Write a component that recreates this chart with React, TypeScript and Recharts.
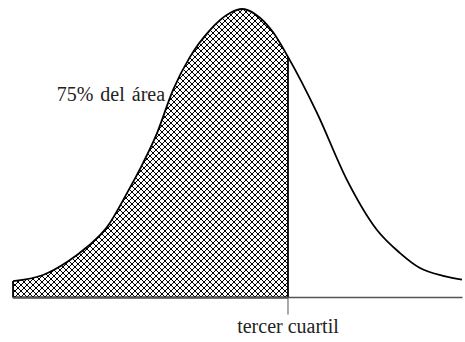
import React from 'react';
import { ComposedChart, Area, Line, XAxis, YAxis, ReferenceLine, ReferenceDot } from 'recharts';

// curve: x in standard units, y as % of peak height
const xs = [-2.544, -2.211, -1.944, -1.722, -1.5, -1.278, -1.1, -0.944, -0.767, -0.578, -0.356, -0.133, 0, 0.144, 0.344, 0.511, 0.833, 1.167, 1.5, 1.756, 1.978, 2.233, 2.444];
const ys = [5.7, 7.8, 12.3, 17.5, 24.4, 36.2, 46.6, 57.0, 71.9, 83.4, 92.7, 98.6, 100, 98.3, 92.0, 83.4, 64.0, 40.7, 23.4, 15.4, 10.2, 7.5, 6.2];
const cutX = 0.511;
const cutLabel = 'tercer cuartil';
const areaLabel = '75% del área';

const data = xs.map((x, i) => ({ x, y: ys[i], shaded: x <= cutX + 1e-9 ? ys[i] : null }));
const first = data[0];
const cutPoint = data.find((d) => Math.abs(d.x - cutX) < 1e-9)!;

const FONT = 'Liberation Serif';

export default function App() {
  return (
    <div style={{ position: 'absolute', left: 0, top: 0, background: '#fff' }}>
      <ComposedChart
        width={465}
        height={342}
        data={data}
        margin={{ top: 9, right: 2.5, bottom: 14.5, left: 12.5 }}
      >
        <defs>
          <pattern id="hatch" width="6" height="6" patternUnits="userSpaceOnUse">
            <rect width="6" height="6" fill="#fff" />
            <path d="M0,0L6,6M6,0L0,6" stroke="#000" strokeWidth={1} shapeRendering="crispEdges" />
          </pattern>
        </defs>
        <XAxis
          type="number"
          dataKey="x"
          domain={[-2.55, 2.45]}
          ticks={[cutX]}
          tickFormatter={() => cutLabel}
          tickSize={17}
          tickMargin={4}
          height={30}
          axisLine={{ stroke: '#555', strokeWidth: 1.5 }}
          tickLine={{ stroke: '#555', strokeWidth: 1 }}
          tick={{ fill: '#222', fontSize: 20, fontFamily: FONT }}
          allowDataOverflow
        />
        <YAxis hide domain={[0, 100]} />
        <Area
          dataKey="shaded"
          type="monotone"
          fill="url(#hatch)"
          fillOpacity={1}
          stroke="none"
          isAnimationActive={false}
          connectNulls={false}
        />
        <ReferenceLine segment={[{ x: first.x, y: 0 }, { x: first.x, y: first.y }]} stroke="#000" strokeWidth={1.8} />
        <ReferenceLine segment={[{ x: cutPoint.x, y: 0 }, { x: cutPoint.x, y: cutPoint.y }]} stroke="#000" strokeWidth={1.8} />
        <ReferenceLine segment={[{ x: first.x, y: 0 }, { x: cutPoint.x, y: 0 }]} stroke="#000" strokeWidth={1.8} />
        <Line dataKey="y" type="monotone" stroke="#000" strokeWidth={1.8} dot={false} activeDot={false} isAnimationActive={false} />
        <ReferenceDot
          x={-1.457}
          y={70.7}
          r={0}
          stroke="none"
          fill="none"
          label={{ value: areaLabel, position: 'center', fill: '#222', fontSize: 20, fontFamily: FONT, wordSpacing: 2 }}
        />
      </ComposedChart>
    </div>
  );
}
